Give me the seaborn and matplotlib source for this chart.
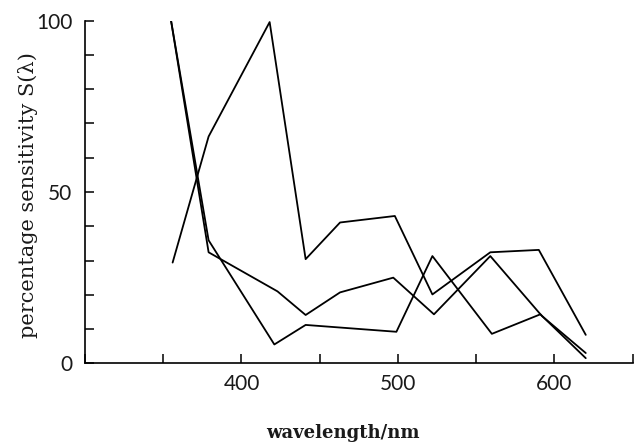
import matplotlib
matplotlib.use("Agg")
import matplotlib.pyplot as plt
from matplotlib.ticker import MultipleLocator
import numpy as np
import pandas as pd
import seaborn as sns

# Spectral sensitivity curves, percentage of peak response
wl_a = [356, 379, 418, 441, 463, 498, 522, 559, 590, 620]
s_a = [29.4, 66.2, 99.6, 30.4, 41.1, 43.0, 20.1, 32.4, 33.1, 8.3]

wl_b = [355, 379, 421, 441, 499, 522, 560, 591, 620]
s_b = [100, 35.9, 5.5, 11.2, 9.2, 31.3, 8.6, 14.3, 1.5]

wl_c = [355, 379, 423, 441, 463, 497, 523, 559, 592, 620]
s_c = [100, 32.4, 21.0, 14.1, 20.7, 25.0, 14.3, 31.3, 13.8, 3.0]

series_names = ["a", "b", "c"]

frames = []
for name, wl, s in zip(series_names, [wl_a, wl_b, wl_c], [s_a, s_b, s_c]):
    frames.append(pd.DataFrame({"wavelength": wl, "sensitivity": s, "series": name}))
df = pd.concat(frames, ignore_index=True)

sns.set_theme(style="ticks")
plt.rcParams["font.family"] = ["DejaVu Sans"]

fig = plt.figure(figsize=(6.38, 4.43), dpi=100)
ax = fig.add_axes([0.1332, 0.1799, 0.8585, 0.7734])

sns.lineplot(
    data=df, x="wavelength", y="sensitivity", hue="series",
    palette=["black"] * 3, legend=False, sort=False,
    estimator=None, linewidth=1.3, ax=ax,
)

ax.set_xlim(300, 650)
ax.set_ylim(0, 100)
ax.xaxis.set_minor_locator(MultipleLocator(50))
ax.yaxis.set_minor_locator(MultipleLocator(10))
ax.set_xticks([400, 500, 600])
ax.set_xticklabels(["400", "500", "600"])
ax.set_yticks([0, 50, 100])
ax.set_yticklabels(["0", "50", "100"])

ax.tick_params(axis="both", which="both", direction="in", length=6.5,
               width=1.1, color="black", labelsize=15, labelcolor="#1a1a1a")
ax.tick_params(axis="x", which="major", pad=8)
ax.tick_params(axis="y", which="major", pad=9)
for lab in ax.get_xticklabels() + ax.get_yticklabels():
    lab.set_fontfamily("Lato")
    lab.set_fontweight("normal")

for side in ["top", "right"]:
    ax.spines[side].set_visible(False)
for side in ["left", "bottom"]:
    ax.spines[side].set_linewidth(1.2)
    ax.spines[side].set_color("black")

ax.set_xlabel("wavelength/nm", fontfamily="DejaVu Serif", fontsize=13,
              fontweight="bold", color="#1a1a1a")
ax.xaxis.set_label_coords(0.470, -0.178)
ax.set_ylabel("percentage sensitivity S(λ)", fontfamily="DejaVu Serif",
              fontsize=15, color="#1a1a1a")
ax.yaxis.set_label_coords(-0.086, 0.49)

fig.savefig("out.png", dpi=100)
